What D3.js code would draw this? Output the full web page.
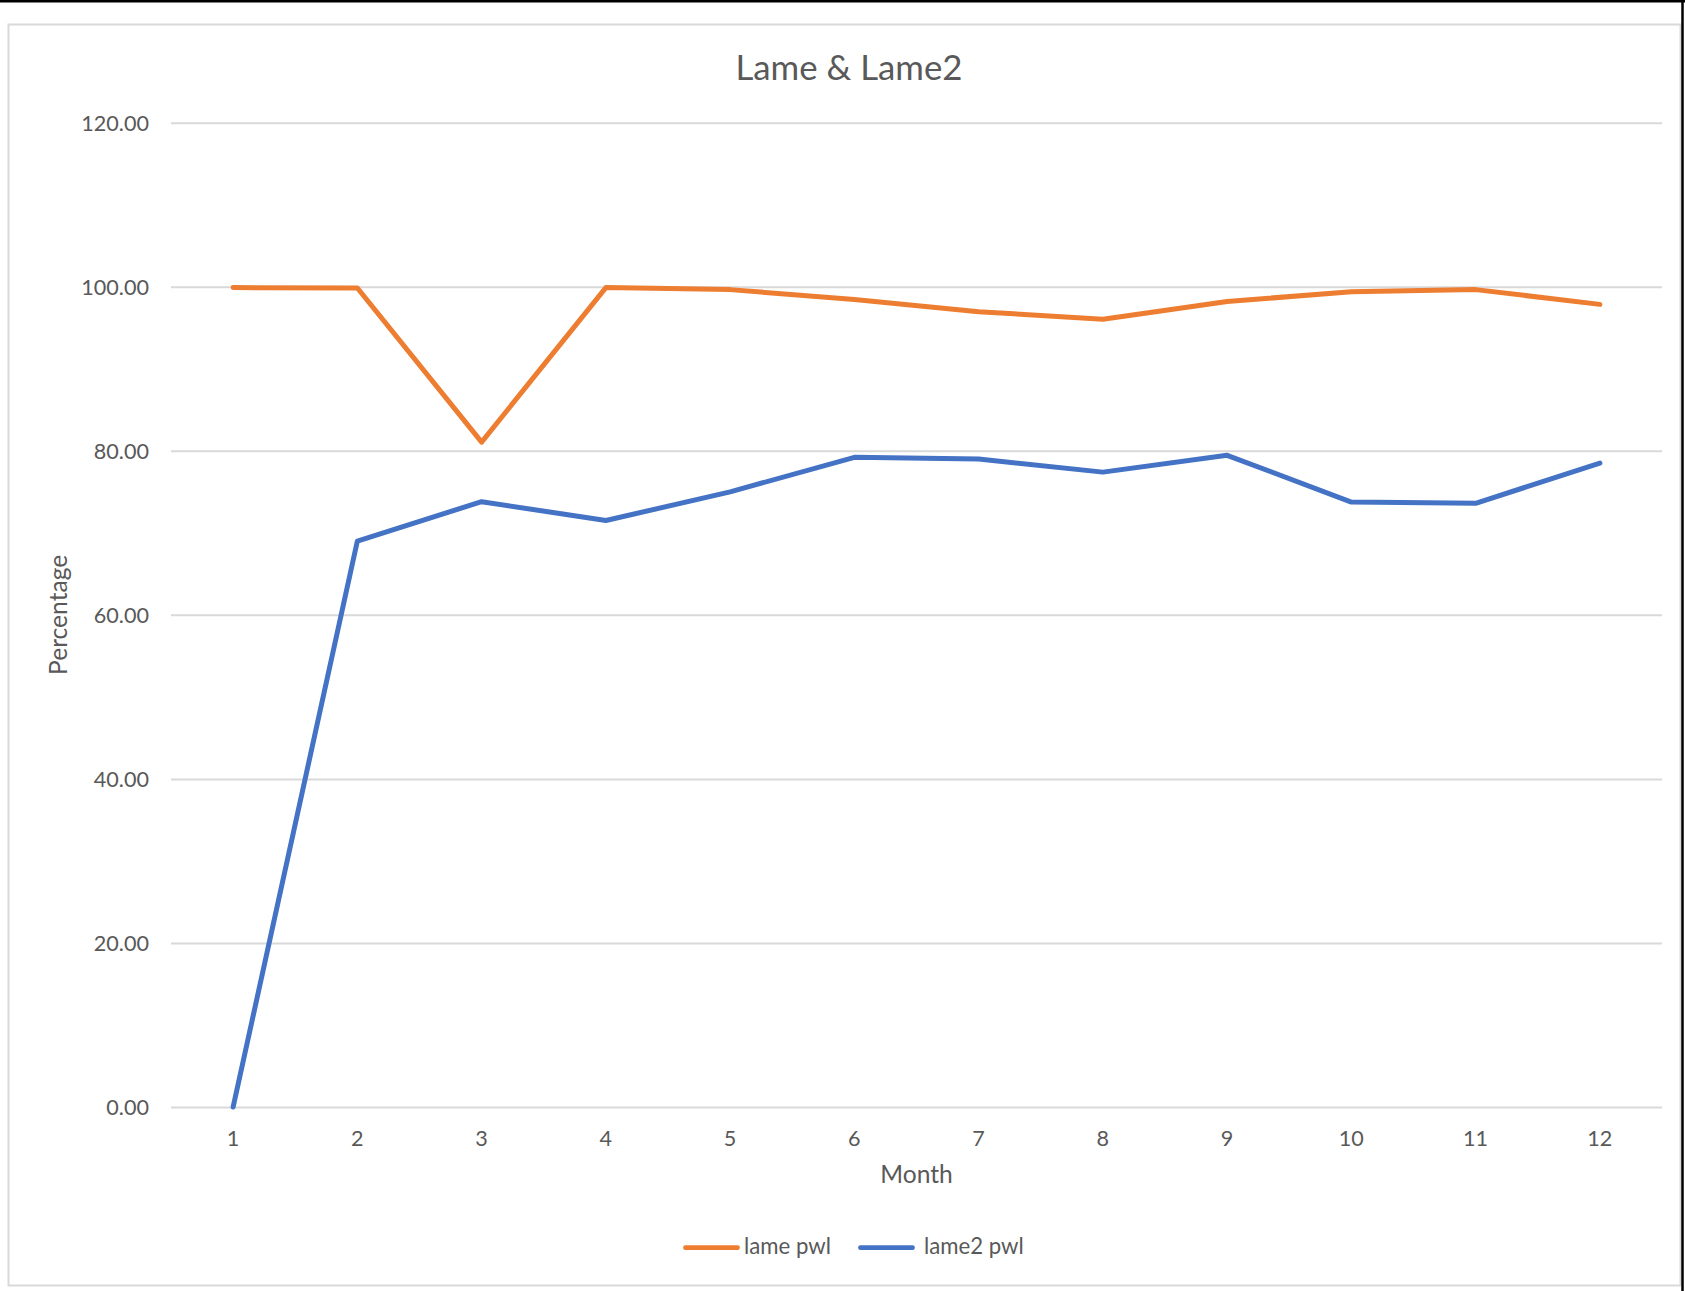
<!DOCTYPE html>
<html>
<head>
<meta charset="utf-8">
<script src="https://cdn.jsdelivr.net/npm/d3@7"></script>
<style>
  html, body { margin: 0; padding: 0; background: #ffffff; }
  svg { display: block; }
  text { font-family: Lato, "Open Sans", sans-serif; fill: #595959; }
</style>
</head>
<body>
<svg id="chart" width="1685" height="1291"></svg>
<script>
// ---- data ----
const months = ["1", "2", "3", "4", "5", "6", "7", "8", "9", "10", "11", "12"];
const lamePwl = [99.9, 99.85, 81.05, 99.9, 99.65, 98.45, 96.95, 96.05, 98.2, 99.4, 99.65, 97.85];
const lame2Pwl = [0, 69.0, 73.8, 71.5, 75.0, 79.2, 79.0, 77.4, 79.45, 73.75, 73.6, 78.5];
const yTicks = [0, 20, 40, 60, 80, 100, 120];
const seriesNames = ["lame pwl", "lame2 pwl"];
const chartTitle = "Lame & Lame2";
const xTitle = "Month";
const yTitle = "Percentage";

// ---- layout ----
const W = 1685, H = 1291;
const plot = { left: 171, right: 1662, top: 122.7, bottom: 1107 };
const colors = ["#ED7D31", "#4472C4"];
const gridColor = "#D9D9D9";

const svg = d3.select("#chart");

// frames
svg.append("rect").attr("x", 0).attr("y", 0).attr("width", W).attr("height", H).attr("fill", "#fff");
svg.append("rect").attr("x", 8.5).attr("y", 24.5).attr("width", 1672).attr("height", 1261)
  .attr("fill", "none").attr("stroke", gridColor).attr("stroke-width", 2);
svg.append("line").attr("x1", 0).attr("x2", W).attr("y1", 1.25).attr("y2", 1.25)
  .attr("stroke", "#000").attr("stroke-width", 2.5);
svg.append("line").attr("x1", 1682.5).attr("x2", 1682.5).attr("y1", 0).attr("y2", H)
  .attr("stroke", "#000").attr("stroke-width", 2.5);

// scales
const x = d3.scaleBand().domain(months).range([plot.left, plot.right]).padding(0);
const cx = m => x(m) + x.bandwidth() / 2;
const y = d3.scaleLinear().domain([0, 120]).range([plot.bottom, plot.top]);

// y axis with gridlines
const yAxis = d3.axisLeft(y)
  .tickValues(yTicks)
  .tickSize(-(plot.right - plot.left))
  .tickPadding(22)
  .tickFormat(d3.format(".2f"));
const gy = svg.append("g").attr("transform", `translate(${plot.left},0)`).call(yAxis);
gy.select(".domain").remove();
gy.selectAll(".tick line").attr("stroke", gridColor).attr("stroke-width", 2);
gy.selectAll(".tick text")
  .attr("fill", "#595959").attr("dy", "0.35em")
  .style("font-size", "21.6px").style("font-family", "Lato, sans-serif");

// x axis
const xAxis = d3.axisBottom(x).tickSize(0).tickPadding(23.3);
const gx = svg.append("g").attr("transform", `translate(0,${plot.bottom})`).call(xAxis);
gx.select(".domain").remove();
gx.selectAll(".tick text")
  .attr("fill", "#595959")
  .style("font-size", "21.6px").style("font-family", "Lato, sans-serif");

// lines
const line = d3.line()
  .x((d, i) => cx(months[i]))
  .y(d => y(d));

[lame2Pwl, lamePwl].forEach(vals => {
  const ci = vals === lamePwl ? 0 : 1;
  svg.append("path")
    .datum(vals)
    .attr("d", line)
    .attr("fill", "none")
    .attr("stroke", colors[ci])
    .attr("stroke-width", 5)
    .attr("stroke-linecap", "round")
    .attr("stroke-linejoin", "round");
});

// title
svg.append("text").attr("x", 849).attr("y", 80).attr("text-anchor", "middle")
  .style("font-size", "34.8px").text(chartTitle);

// axis titles
svg.append("text").attr("x", (plot.left + plot.right) / 2).attr("y", 1183).attr("text-anchor", "middle")
  .style("font-size", "24.6px").text(xTitle);
svg.append("text")
  .attr("transform", `translate(67,${(plot.top + plot.bottom) / 2}) rotate(-90)`)
  .attr("text-anchor", "middle")
  .style("font-size", "24.6px").text(yTitle);

// legend
const legendItems = [
  { name: seriesNames[0], color: colors[0], x1: 685.5, x2: 737.5, tx: 744 },
  { name: seriesNames[1], color: colors[1], x1: 860.5, x2: 912.5, tx: 924 }
];
const lg = svg.append("g");
legendItems.forEach(it => {
  lg.append("line").attr("x1", it.x1).attr("x2", it.x2).attr("y1", 1247.7).attr("y2", 1247.7)
    .attr("stroke", it.color).attr("stroke-width", 4.8).attr("stroke-linecap", "round");
  lg.append("text").attr("x", it.tx).attr("y", 1254.3).style("font-size", "22.2px").text(it.name);
});
</script>
</body>
</html>
